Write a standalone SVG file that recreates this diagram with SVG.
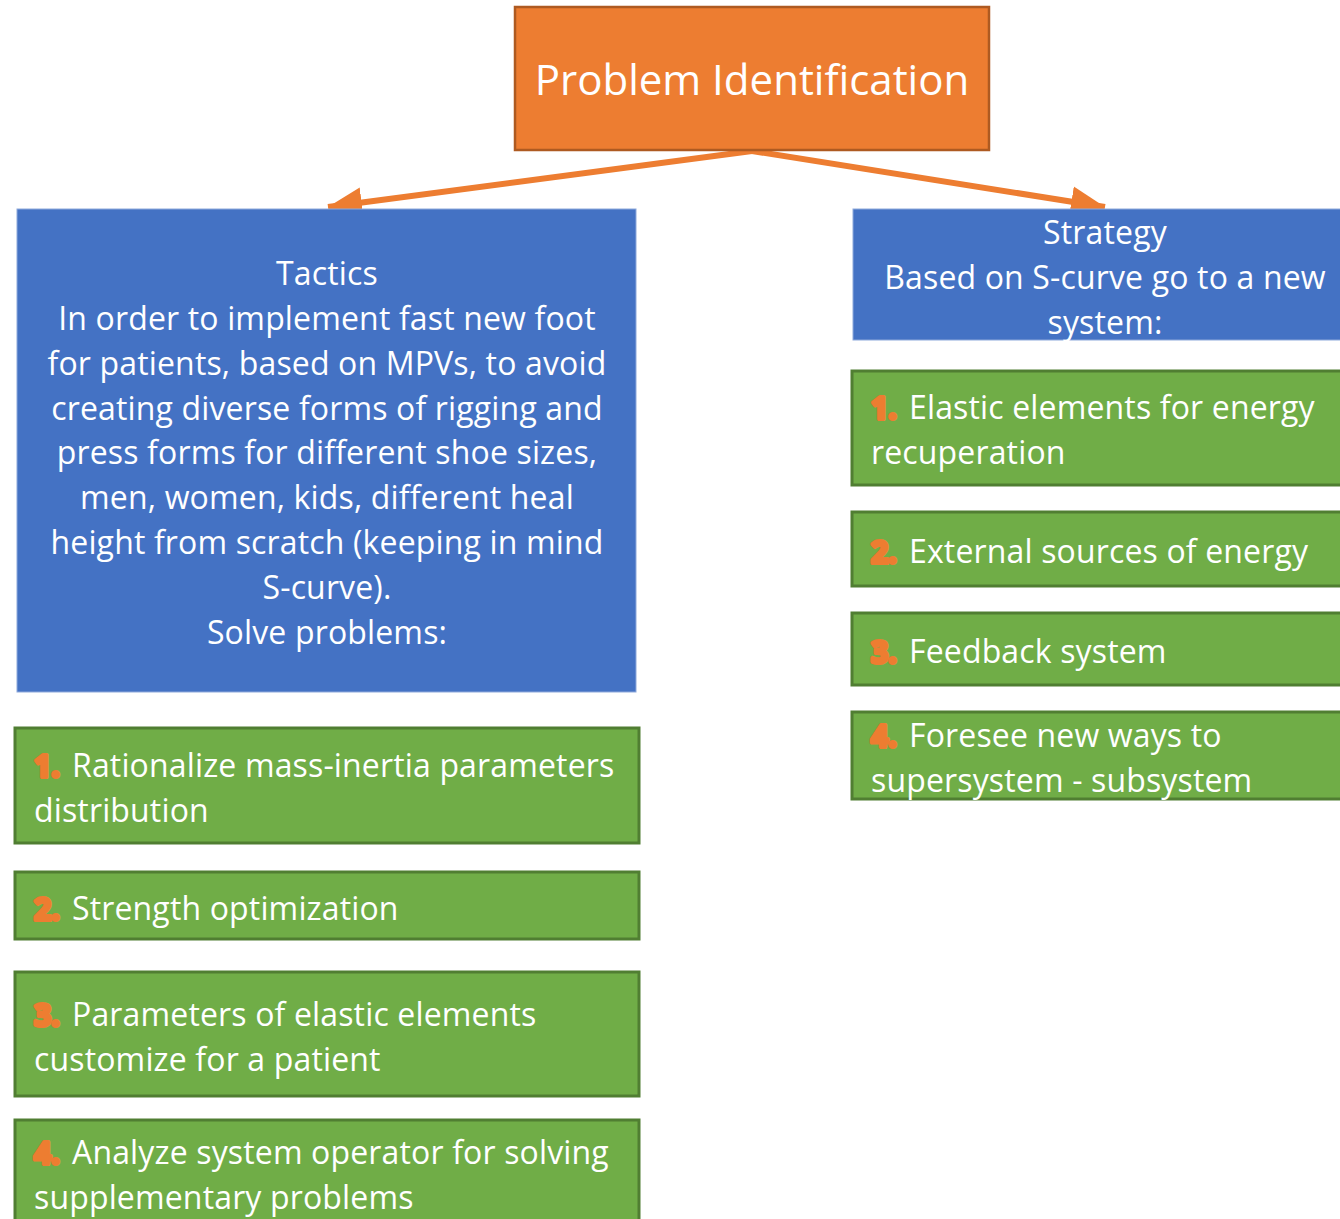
<svg xmlns="http://www.w3.org/2000/svg" width="1340" height="1219" viewBox="0 0 1340 1219">
  <style>
    .txt { font-family: "Open Sans", "Liberation Sans", sans-serif; fill: #ffffff; font-size: 32px; letter-spacing: 0.15px; }
    .mid { text-anchor: middle; }
    .title { font-size: 42px; letter-spacing: 0; }
    .blue { fill: #4472C4; stroke: #8EA9DB; stroke-width: 1; }
    .green { fill: #70AD47; stroke: #507E32; stroke-width: 3; }
    .num { font-family: "Open Sans", "Liberation Sans", sans-serif; font-size: 30px; font-weight: bold; fill: #ED7D31; stroke: #ED7D31; stroke-width: 4; stroke-linejoin: round; }
    .conn { stroke: #ED7D31; stroke-width: 6; fill: none; }
  </style>
  <defs>
    <marker id="head" viewBox="0 0 10 10" refX="10" refY="5" markerWidth="34" markerHeight="34" markerUnits="userSpaceOnUse" orient="auto">
      <path d="M0,0.5 L10,5 L0,9.5 Z" fill="#ED7D31"/>
    </marker>
  </defs>

  <rect width="1340" height="1219" fill="#ffffff"/>

  <!-- connectors -->
  <g id="connectors">
    <line class="conn" x1="752" y1="151" x2="328" y2="207" marker-end="url(#head)"/>
    <line class="conn" x1="752" y1="151" x2="1105" y2="207" marker-end="url(#head)"/>
  </g>

  <!-- root node -->
  <g id="problem">
    <rect x="515" y="7" width="474" height="143" fill="#ED7D31" stroke="#AE5A21" stroke-width="2.5"/>
    <text class="txt title mid" x="752" y="95">Problem Identification</text>
  </g>

  <!-- tactics branch -->
  <g id="tactics">
    <rect class="blue" x="17" y="209" width="619" height="483"/>
    <text class="txt mid" x="327" y="285">Tactics</text>
    <text class="txt mid" x="327" y="330">In order to implement fast new foot</text>
    <text class="txt mid" x="327" y="375">for patients, based on MPVs, to avoid</text>
    <text class="txt mid" x="327" y="420">creating diverse forms of rigging and</text>
    <text class="txt mid" x="327" y="464">press forms for different shoe sizes,</text>
    <text class="txt mid" x="327" y="509">men, women, kids, different heal</text>
    <text class="txt mid" x="327" y="554">height from scratch (keeping in mind</text>
    <text class="txt mid" x="327" y="599">S-curve).</text>
    <text class="txt mid" x="327" y="644">Solve problems:</text>
  </g>

  <g id="tactic-1">
    <rect class="green" x="15" y="728" width="624" height="115"/>
    <text class="num" x="34" y="777">1.</text>
    <text class="txt" x="72" y="777">Rationalize mass-inertia parameters</text>
    <text class="txt" x="34" y="822">distribution</text>
  </g>
  <g id="tactic-2">
    <rect class="green" x="15" y="872" width="624" height="67"/>
    <text class="num" x="34" y="920">2.</text>
    <text class="txt" x="72" y="920">Strength optimization</text>
  </g>
  <g id="tactic-3">
    <rect class="green" x="15" y="972" width="624" height="124"/>
    <text class="num" x="34" y="1026">3.</text>
    <text class="txt" x="72" y="1026">Parameters of elastic elements</text>
    <text class="txt" x="34" y="1071">customize for a patient</text>
  </g>
  <g id="tactic-4">
    <rect class="green" x="15" y="1120" width="624" height="110"/>
    <text class="num" x="34" y="1164">4.</text>
    <text class="txt" x="72" y="1164">Analyze system operator for solving</text>
    <text class="txt" x="34" y="1209">supplementary problems</text>
  </g>

  <!-- strategy branch -->
  <g id="strategy">
    <rect class="blue" x="853" y="209" width="500" height="131"/>
    <text class="txt mid" x="1105" y="244">Strategy</text>
    <text class="txt mid" x="1105" y="289">Based on S-curve go to a new</text>
    <text class="txt mid" x="1105" y="334">system:</text>
  </g>

  <g id="strategy-1">
    <rect class="green" x="852" y="371" width="500" height="114"/>
    <text class="num" x="871" y="419">1.</text>
    <text class="txt" x="909" y="419">Elastic elements for energy</text>
    <text class="txt" x="871" y="464">recuperation</text>
  </g>
  <g id="strategy-2">
    <rect class="green" x="852" y="512" width="500" height="74"/>
    <text class="num" x="871" y="563">2.</text>
    <text class="txt" x="909" y="563">External sources of energy</text>
  </g>
  <g id="strategy-3">
    <rect class="green" x="852" y="613" width="500" height="72"/>
    <text class="num" x="871" y="663">3.</text>
    <text class="txt" x="909" y="663">Feedback system</text>
  </g>
  <g id="strategy-4">
    <rect class="green" x="852" y="712" width="500" height="87"/>
    <text class="num" x="871" y="747">4.</text>
    <text class="txt" x="909" y="747">Foresee new ways to</text>
    <text class="txt" x="871" y="792">supersystem - subsystem</text>
  </g>
</svg>
